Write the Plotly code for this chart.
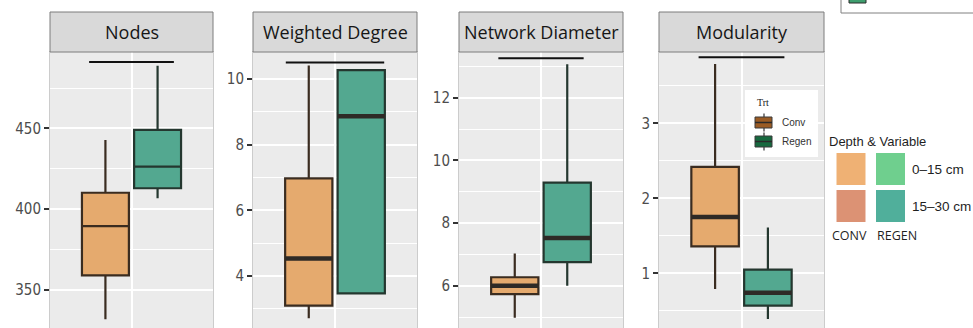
import plotly.graph_objects as go

# ---- data -------------------------------------------------------------
metrics = ["Nodes", "Weighted Degree", "Network Diameter", "Modularity"]
treatments = ["Conv", "Regen"]

# five-number summaries per metric: [Conv, Regen]
lower = {
    "Nodes": [331.5, 406.6],
    "Weighted Degree": [2.71, 3.47],
    "Network Diameter": [4.98, 6.0],
    "Modularity": [0.79, 0.39],
}
q1 = {
    "Nodes": [358.8, 412.9],
    "Weighted Degree": [3.10, 3.47],
    "Network Diameter": [5.73, 6.75],
    "Modularity": [1.36, 0.57],
}
median = {
    "Nodes": [389.4, 426.3],
    "Weighted Degree": [4.53, 8.86],
    "Network Diameter": [6.0, 7.52],
    "Modularity": [1.75, 0.74],
}
q3 = {
    "Nodes": [410.1, 449.1],
    "Weighted Degree": [6.97, 10.27],
    "Network Diameter": [6.27, 9.29],
    "Modularity": [2.42, 1.05],
}
upper = {
    "Nodes": [442.9, 489.0],
    "Weighted Degree": [10.41, 10.27],
    "Network Diameter": [7.03, 13.07],
    "Modularity": [3.79, 1.61],
}
# height of the significance bar above each pair of boxes
bracket_level = [491.3, 10.50, 13.26, 3.88]

# axis set-up per panel
y_ranges = [[326.1, 497.5], [2.416, 10.82], [4.65, 13.46], [0.271, 3.951]]
y_dticks = [50, 2, 2, 1]

# legend entries
depth_labels = ["0\u201315 cm", "15\u201330 cm"]
system_labels = ["CONV", "REGEN"]

# ---- style ------------------------------------------------------------
W, H = 973, 328
box_fill = {"Conv": "#E5AA6E", "Regen": "#53A890"}
box_line = {"Conv": "#3A2C20", "Regen": "#24372F"}
key_fill = {"Conv": "#9A5B24", "Regen": "#17693F"}
depth_colors = [["#EFB174", "#6FCF8E"], ["#DC9274", "#50AF9B"]]
panel_px = [(50, 213), (253, 417), (459, 623), (659, 824)]
plot_top, strip_top = 52, 12
bracket_half = [0.26, 0.30, 0.26, 0.26]
thick_median = [False, True, True, True]
tick_font = "DejaVu Sans Condensed, Liberation Sans Narrow, Arial Narrow, sans-serif"


def px(x):
    return x / W


def py(y):
    return 1 - y / H


fig = go.Figure()
shapes, annotations = [], []

for i, m in enumerate(metrics):
    ax = "" if i == 0 else str(i + 1)
    xa, ya = "x" + ax, "y" + ax
    for j, t in enumerate(treatments):
        fig.add_trace(go.Box(
            x=[m], q1=[q1[m][j]], median=[median[m][j]], q3=[q3[m][j]],
            lowerfence=[lower[m][j]], upperfence=[upper[m][j]],
            name=t, offsetgroup=t, fillcolor=box_fill[t],
            line=dict(color=box_line[t], width=2.2), whiskerwidth=0,
            boxpoints=False, showlegend=False, xaxis=xa, yaxis=ya,
        ))
        if thick_median[i]:
            md = median[m][j]
            fig.add_trace(go.Box(
                x=[m], q1=[md], median=[md], q3=[md], lowerfence=[md],
                upperfence=[md], name=t, offsetgroup=t,
                fillcolor="rgba(0,0,0,0)",
                line=dict(color="#2E2A26", width=4.5), whiskerwidth=0,
                boxpoints=False, showlegend=False, xaxis=xa, yaxis=ya,
            ))
    # significance bar
    shapes.append(dict(type="line", xref=xa, yref=ya,
                       x0=-bracket_half[i], x1=bracket_half[i],
                       y0=bracket_level[i], y1=bracket_level[i],
                       line=dict(color="#111111", width=2)))

    x0, x1 = panel_px[i]
    dom = [px(x0), px(x1)]
    fig.update_layout(**{
        "xaxis" + ax: dict(
            domain=dom, type="category", range=[-0.5, 0.5],
            showticklabels=False, ticks="", showgrid=True,
            gridcolor="white", gridwidth=1.6, zeroline=False,
            showline=True, linecolor="#cccccc", linewidth=1, mirror=True,
            anchor=ya, fixedrange=True,
        ),
        "yaxis" + ax: dict(
            domain=[0, py(plot_top)], range=y_ranges[i],
            tick0=0, dtick=y_dticks[i], ticks="outside", ticklen=5,
            tickwidth=2, tickcolor="#333333",
            tickfont=dict(family=tick_font, size=15, color="#4d4d4d"),
            showgrid=True, gridcolor="white", gridwidth=1.6,
            minor=dict(dtick=y_dticks[i] / 2, showgrid=True,
                       gridcolor="white", gridwidth=0.8),
            zeroline=False, showline=True, linecolor="#cccccc",
            linewidth=1, mirror=True, anchor=xa, fixedrange=True,
        ),
    })

    # facet strip
    shapes.append(dict(type="rect", xref="paper", yref="paper",
                       x0=px(x0), x1=px(x1), y0=py(plot_top), y1=py(strip_top),
                       fillcolor="#d9d9d9", line=dict(color="#7d7d7d", width=1),
                       layer="above"))
    annotations.append(dict(xref="paper", yref="paper",
                            x=px((x0 + x1) / 2), y=py((plot_top + strip_top) / 2),
                            text=m, showarrow=False,
                            font=dict(family="Open Sans, sans-serif", size=18,
                                      color="#161616"),
                            xanchor="center", yanchor="middle"))

# ---- Trt key inside the Modularity panel -------------------------------
shapes.append(dict(type="rect", xref="paper", yref="paper",
                   x0=px(745), x1=px(818), y0=py(157), y1=py(90),
                   fillcolor="white", line=dict(width=0)))
annotations.append(dict(xref="paper", yref="paper", x=px(755), y=py(102),
                        text="Trt", showarrow=False, xanchor="left",
                        yanchor="middle",
                        font=dict(family="Liberation Serif, serif", size=10,
                                  color="#222222")))
for k, t in enumerate(treatments):
    yc = 122.5 + 19 * k
    shapes.append(dict(type="line", xref="paper", yref="paper",
                       x0=px(764), x1=px(764), y0=py(yc - 9), y1=py(yc + 9),
                       line=dict(color="#333333", width=1.2)))
    shapes.append(dict(type="rect", xref="paper", yref="paper",
                       x0=px(755), x1=px(772), y0=py(yc + 5.5), y1=py(yc - 5.5),
                       fillcolor=key_fill[t], line=dict(color="#3a3a3a", width=1)))
    shapes.append(dict(type="line", xref="paper", yref="paper",
                       x0=px(755), x1=px(772), y0=py(yc), y1=py(yc),
                       line=dict(color="#2a2a2a", width=1.5)))
    annotations.append(dict(xref="paper", yref="paper", x=px(780), y=py(yc),
                            text=t, showarrow=False, xanchor="left",
                            yanchor="middle",
                            font=dict(family="Liberation Sans, sans-serif",
                                      size=10, color="#333333")))

# ---- Depth & Variable key ---------------------------------------------
annotations.append(dict(xref="paper", yref="paper", x=px(827), y=py(142),
                        text="Depth &amp; Variable", showarrow=False,
                        xanchor="left", yanchor="middle",
                        font=dict(family="Liberation Sans, sans-serif", size=13,
                                  color="#1f1f1f")))
sw_x = [(836.5, 865.5), (876, 905)]
sw_y = [(153, 185), (190, 222)]
label_x = [849, 897]
for r in range(2):
    for c in range(2):
        shapes.append(dict(type="rect", xref="paper", yref="paper",
                           x0=px(sw_x[c][0]), x1=px(sw_x[c][1]),
                           y0=py(sw_y[r][1]), y1=py(sw_y[r][0]),
                           fillcolor=depth_colors[r][c], line=dict(width=0)))
    annotations.append(dict(xref="paper", yref="paper", x=px(910),
                            y=py((sw_y[r][0] + sw_y[r][1]) / 2),
                            text=depth_labels[r], showarrow=False,
                            xanchor="left", yanchor="middle",
                            font=dict(family="Liberation Sans, sans-serif",
                                      size=13.5, color="#1f1f1f")))
for c in range(2):
    annotations.append(dict(xref="paper", yref="paper",
                            x=px(label_x[c]), y=py(235),
                            text=system_labels[c], showarrow=False,
                            xanchor="center", yanchor="middle",
                            font=dict(family="Open Sans, sans-serif", size=12.5,
                                      color="#1f1f1f")))

# ---- partially visible key box at the top right ----------------------
shapes.append(dict(type="rect", xref="paper", yref="paper",
                   x0=px(841), x1=px(990), y0=py(13), y1=py(-10),
                   fillcolor="white", line=dict(color="#808080", width=1)))
shapes.append(dict(type="rect", xref="paper", yref="paper",
                   x0=px(849), x1=px(866), y0=py(3), y1=py(-8),
                   fillcolor="#3E9E6E", line=dict(color="#2a2a2a", width=1)))

fig.update_layout(
    width=W, height=H, margin=dict(l=0, r=0, t=0, b=0),
    paper_bgcolor="white", plot_bgcolor="#ebebeb",
    boxmode="group", boxgap=0.36, boxgroupgap=0.1,
    showlegend=False, shapes=shapes, annotations=annotations,
)

fig.write_html("out.html")
